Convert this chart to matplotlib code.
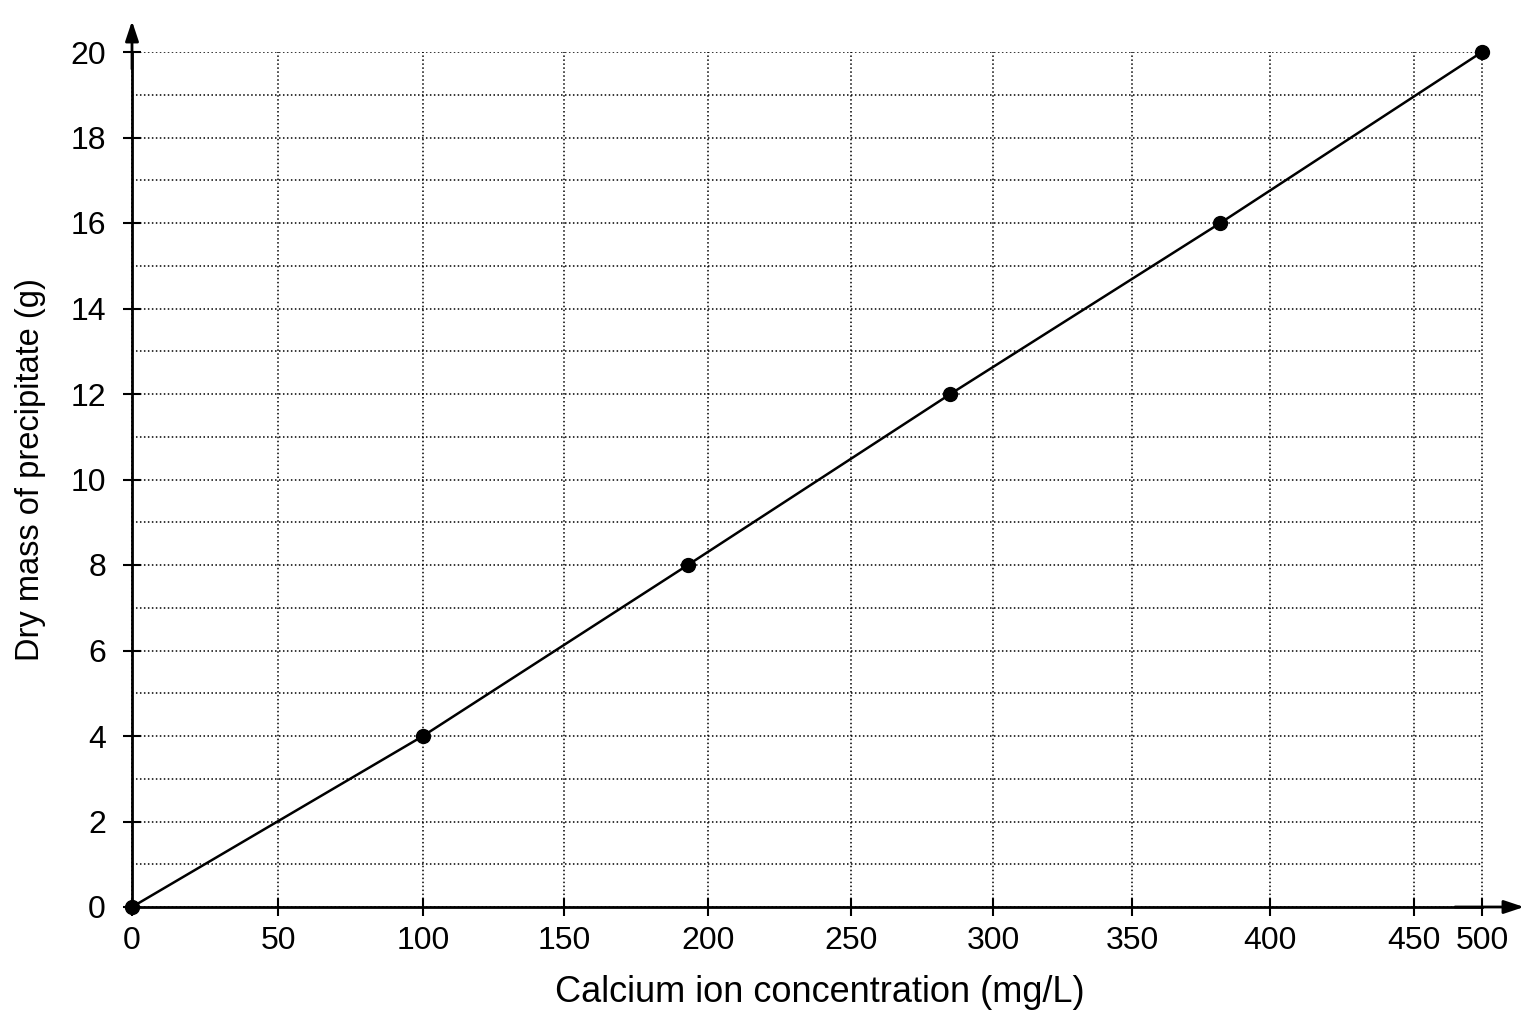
import matplotlib
matplotlib.use("Agg")
import matplotlib.pyplot as plt
import numpy as np

# data
conc = [0, 100, 193, 285, 382, 500]      # mg/L
mass = [0, 4, 8, 12, 16, 20]             # g

xticks = [0, 50, 100, 150, 200, 250, 300, 350, 400, 450, 500]
yticks = [0, 2, 4, 6, 8, 10, 12, 14, 16, 18, 20]

# the printed x axis is not evenly spaced -> piecewise mapping of tick value to drawn position
xtick_pos = [132, 278, 423, 564, 708, 851, 993, 1132, 1270, 1414, 1482]

plt.rcParams['font.family'] = ['Liberation Sans', 'DejaVu Sans']

W, H = 1536, 1024
fig = plt.figure(figsize=(W / 100, H / 100), dpi=100)
ax = fig.add_axes([132 / W, 1 - 907 / H, (1482 - 132) / W, (907 - 52) / H])


def fwd(x):
    return np.interp(x, xticks, xtick_pos)


def inv(p):
    return np.interp(p, xtick_pos, xticks)


ax.set_xscale('function', functions=(fwd, inv))
ax.set_xlim(0, 500)
ax.set_ylim(0, 20)

ax.set_xticks(xticks)
ax.set_yticks(yticks)
ax.set_yticks(np.arange(1, 20, 2), minor=True)
ax.tick_params(which='major', direction='inout', length=13.5, width=1.5,
               labelsize=23, color='black')
ax.tick_params(axis='x', pad=7)
ax.tick_params(axis='y', pad=12)
ax.tick_params(which='minor', length=0)

dots = (0, (1, 1.6))
ax.grid(which='major', axis='x', color='black', linestyle=dots, linewidth=1.1)
ax.grid(which='both', axis='y', color='black', linestyle=dots, linewidth=1.1)
for gl in ax.get_xgridlines():
    gl.set_clip_on(False)
ax.set_axisbelow(True)

for s in ['top', 'right']:
    ax.spines[s].set_visible(False)
for s in ['left', 'bottom']:
    ax.spines[s].set_linewidth(2)
    ax.spines[s].set_zorder(3)

# arrow heads on the axes
head = '-|>,head_length=1.2,head_width=0.4'
ax.annotate('', xy=((1524 - 132) / (1482 - 132), 0), xytext=(0.98, 0),
            xycoords='axes fraction', textcoords='axes fraction',
            arrowprops=dict(arrowstyle=head, color='black', lw=2,
                            shrinkA=0, shrinkB=0))
ax.annotate('', xy=(0, 1 + (52 - 21) / (907 - 52)), xytext=(0, 0.98),
            xycoords='axes fraction', textcoords='axes fraction',
            arrowprops=dict(arrowstyle=head, color='black', lw=2,
                            shrinkA=0, shrinkB=0))

ax.plot(conc, mass, color='black', linewidth=1.8, marker='o', markersize=10,
        clip_on=False, zorder=4)

ax.set_xlabel('Calcium ion concentration (mg/L)', fontsize=26)
ax.set_ylabel('Dry mass of precipitate (g)', fontsize=23.5)
ax.xaxis.set_label_coords((820 - 132) / (1482 - 132), -(975 - 907) / (907 - 52))
ax.yaxis.set_label_coords(-(132 - 46) / (1482 - 132), (907 - 470) / (907 - 52))

fig.savefig('out.png', dpi=100)
